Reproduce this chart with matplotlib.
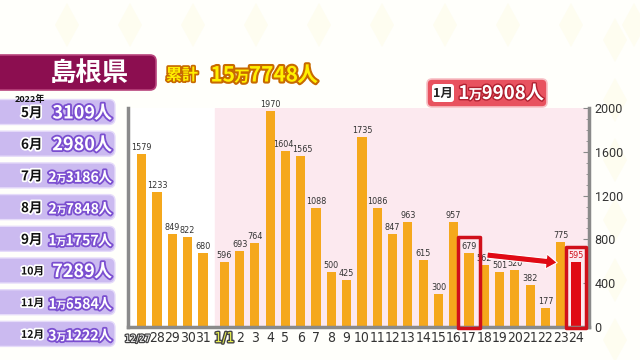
import matplotlib
matplotlib.use('Agg')
import matplotlib.pyplot as plt
import matplotlib.patheffects as pe
import matplotlib.transforms as mtrans
from matplotlib.patches import FancyBboxPatch, Rectangle, FancyArrowPatch, Polygon
from matplotlib import font_manager as fm

# ---------------- data ----------------
dates = ['12/27', '28', '29', '30', '31', '1/1', '2', '3', '4', '5', '6', '7', '8', '9',
         '10', '11', '12', '13', '14', '15', '16', '17', '18', '19', '20', '21', '22', '23', '24']
values = [1579, 1233, 849, 822, 680, 596, 693, 764, 1970, 1604, 1565, 1088, 500, 425,
          1735, 1086, 847, 963, 615, 300, 957, 679, 562, 501, 520, 382, 177, 775, 595]
months = ['5月', '6月', '7月', '8月', '9月', '10月', '11月', '12月']
month_totals = ['3109人', '2980人', '2万3186人', '2万7848人', '1万1757人', '7289人', '1万6584人', '3万1222人']
yticks = [0, 400, 800, 1200, 1600, 2000]
title = '島根県'
total_label = '累計'
total_value = '15万7748人'
jan_label = '1月'
jan_value = '1万9908人'
year_label = '2022年'

# ---------------- fonts ----------------
cond = None
for f in fm.fontManager.ttflist:
    nm = f.name.lower()
    st = str(f.stretch).lower()
    if ('narrow' in nm or 'condensed' in nm or st in ('condensed', 'semi-condensed', 'extra-condensed')) \
            and f.style == 'normal' and 'mono' not in nm:
        w = f.weight if isinstance(f.weight, int) else (700 if 'bold' in str(f.weight).lower() else 400)
        if w <= 450:
            cond = f
            break
if cond is not None:
    NARROW = dict(fontproperties=fm.FontProperties(fname=cond.fname))
    xfs, bfs = 9.2, 6.5
else:
    NARROW = dict(family='Roboto')
    xfs, bfs = 8.4, 6.0
JP = ['Noto Sans CJK JP', 'DejaVu Sans']

fig = plt.figure(figsize=(6.4, 3.6), dpi=100)
fig.patch.set_facecolor('#fffffb')
renderer = fig.canvas.get_renderer()

bg = fig.add_axes([0, 0, 1, 1], zorder=-1)
bg.set_xlim(0, 640)
bg.set_ylim(360, 0)
bg.axis('off')

for cx in range(67, 640, 63):
    bg.add_patch(Polygon([[cx, 3], [cx + 12, 25], [cx, 47], [cx - 12, 25]],
                         closed=True, fc='#fefdf0', ec='none'))
for cy in range(40, 360, 60):
    bg.add_patch(Polygon([[615, cy - 22], [627, cy], [615, cy + 22], [603, cy]],
                         closed=True, fc='#fefdf0', ec='none'))


def rich(x_right, y, parts, color, stroke, slw):
    """draw text pieces right-to-left so that they end at x_right (pixel coords)."""
    x = x_right
    for s, fs in reversed(parts):
        t = bg.text(x, y, s, ha='right', va='baseline', fontsize=fs, fontweight='bold',
                    color=color, family=JP,
                    path_effects=[pe.withStroke(linewidth=slw, foreground=stroke)])
        w = t.get_window_extent(renderer).width
        x -= w - 0.8


def split_man(s, big, small):
    if '万' in s:
        a, b = s.split('万')
        return [(a, big), ('万', small), (b[:-1], big), ('人', big)]
    return [(s[:-1], big), ('人', big)]


# ---------------- chart ----------------
pos = [0, 1, 2, 3, 4] + [5.4 + i for i in range(24)]
ax = fig.add_axes([128 / 640, 1 - 327 / 360, (589 - 128) / 640, (327 - 108) / 360])
ax.set_facecolor('white')
ax.set_xlim(-0.9, 29.25)
ax.set_ylim(0, 2000)
ax.axvspan(4.78, 30, color='#fce9ef', zorder=0)

colors = ['#f5a81c'] * len(values)
colors[-1] = '#e00a14'
ax.bar(pos, values, width=0.6, color=colors, zorder=2)

nudge = {dates.index('5'): -1.5, dates.index('6'): 1.5}
for i, (p, v) in enumerate(zip(pos, values)):
    c = '#d0101a' if i == len(values) - 1 else '#333333'
    tr = ax.transData + mtrans.ScaledTranslation(nudge.get(i, 0) / 72, 0, fig.dpi_scale_trans)
    ax.text(p, v + 18, str(v), ha='center', va='bottom', fontsize=bfs,
            color=c, zorder=3, transform=tr, **NARROW)

for s in ['left', 'bottom', 'right']:
    ax.spines[s].set_color('#8a8a8a')
    ax.spines[s].set_linewidth(2.5)
ax.spines['top'].set_visible(False)

ax.yaxis.tick_right()
ax.set_yticks(yticks)
ax.set_yticklabels([str(t) for t in yticks], fontsize=9, color='#333333', family='Roboto')
ax.set_yticks(range(0, 2001, 100), minor=True)
ax.tick_params(axis='y', which='major', direction='in', length=4, color='#8a8a8a', pad=4)
ax.tick_params(axis='y', which='minor', direction='in', length=2.5, color='#8a8a8a', right=True)
ax.tick_params(axis='y', which='both', left=False)

# x labels: the first one drawn separately (slightly shifted left to fit)
ax.set_xticks(pos)
ax.set_xticklabels([''] + dates[1:], fontsize=xfs, color='#333333', **NARROW)
ax.tick_params(axis='x', length=0, pad=3)
xt = ax.get_xticklabels()
xt[5].set_color('#e8f050')
xt[5].set_path_effects([pe.withStroke(linewidth=2, foreground='#444444')])
tr0 = mtrans.blended_transform_factory(ax.transData, ax.transAxes) + \
    mtrans.ScaledTranslation(-3 / 72, -5 / 72, fig.dpi_scale_trans)
ax.text(pos[0], 0, dates[0], ha='center', va='top', fontsize=xfs * 0.78, color='white',
        transform=tr0, clip_on=False,
        path_effects=[pe.withStroke(linewidth=1.8, foreground='#444444')], **NARROW)

i17 = dates.index('17')
i24 = dates.index('24')
ax.add_patch(Rectangle((pos[i17] - 0.72, -12), 1.44, 830, fill=False, ec='#d0101a',
                       lw=2.5, clip_on=False, zorder=4, joinstyle='round'))
ax.add_patch(Rectangle((pos[i24] - 0.68, -12), 1.36, 745, fill=False, ec='#d0101a',
                       lw=2.5, clip_on=False, zorder=4, joinstyle='round'))

arr = FancyArrowPatch((pos[i17] + 1.0, 660), (pos[i24] - 1.05, 585),
                      arrowstyle='simple,tail_width=4.5,head_width=11,head_length=8',
                      fc='#e00a14', ec='white', lw=0.8, zorder=5, mutation_scale=1)
ax.add_patch(arr)

# ---------------- left panel ----------------
bg.add_patch(FancyBboxPatch((-10, 55), 166, 35, boxstyle='round,pad=0,rounding_size=6',
                            fc='#8c0e50', ec='#b8447c', lw=1.2))
bg.text(89, 73, title, ha='center', va='center', fontsize=19, fontweight='bold',
        color='white', family=JP)

bg.text(182, 75, total_label, ha='center', va='center', fontsize=11.5, fontweight='bold',
        color='#fff000', family=JP,
        path_effects=[pe.withStroke(linewidth=2.5, foreground='#c86a00')])
rich(318, 81.5, split_man(total_value, 15, 11), '#fff000', '#c86a00', 3)

for i, (m, t) in enumerate(zip(months, month_totals)):
    cy = 112 + 31.7 * i
    bg.add_patch(FancyBboxPatch((-8, cy - 12.5), 123, 25, boxstyle='round,pad=0,rounding_size=6',
                                fc='#cbbaf0', ec='#e6dcfa', lw=1.0))
    mfs = 9.7 if len(m) == 2 else 7.6
    bg.text(21, cy + 1, m, ha='left', va='center', fontsize=mfs, fontweight='bold',
            color='#111111', family=JP,
            path_effects=[pe.withStroke(linewidth=2.5, foreground='white')])
    if '万' in t:
        parts = split_man(t, 10.2, 7.5)
    else:
        parts = split_man(t, 13, 13)
    rich(112, cy + 6.5, parts, 'white', '#7b4fd0', 2.6)

bg.text(30, 99, year_label, ha='center', va='center', fontsize=6.5, fontweight='bold',
        color='#111111', family=JP)

# ---------------- January box ----------------
bg.add_patch(FancyBboxPatch((427, 79), 120, 28, boxstyle='round,pad=0,rounding_size=5',
                            fc='#e8525f', ec='#f7c0c6', lw=1.2))
bg.add_patch(FancyBboxPatch((432, 84), 22, 18, boxstyle='round,pad=0,rounding_size=3',
                            fc='white', ec='none'))
bg.text(443, 93.5, jan_label, ha='center', va='center', fontsize=9, fontweight='bold',
        color='#222222', family=JP)
rich(544, 99, split_man(jan_value, 13.5, 10), 'white', '#b02030', 2)

fig.savefig('out.png', dpi=100, facecolor=fig.get_facecolor())
